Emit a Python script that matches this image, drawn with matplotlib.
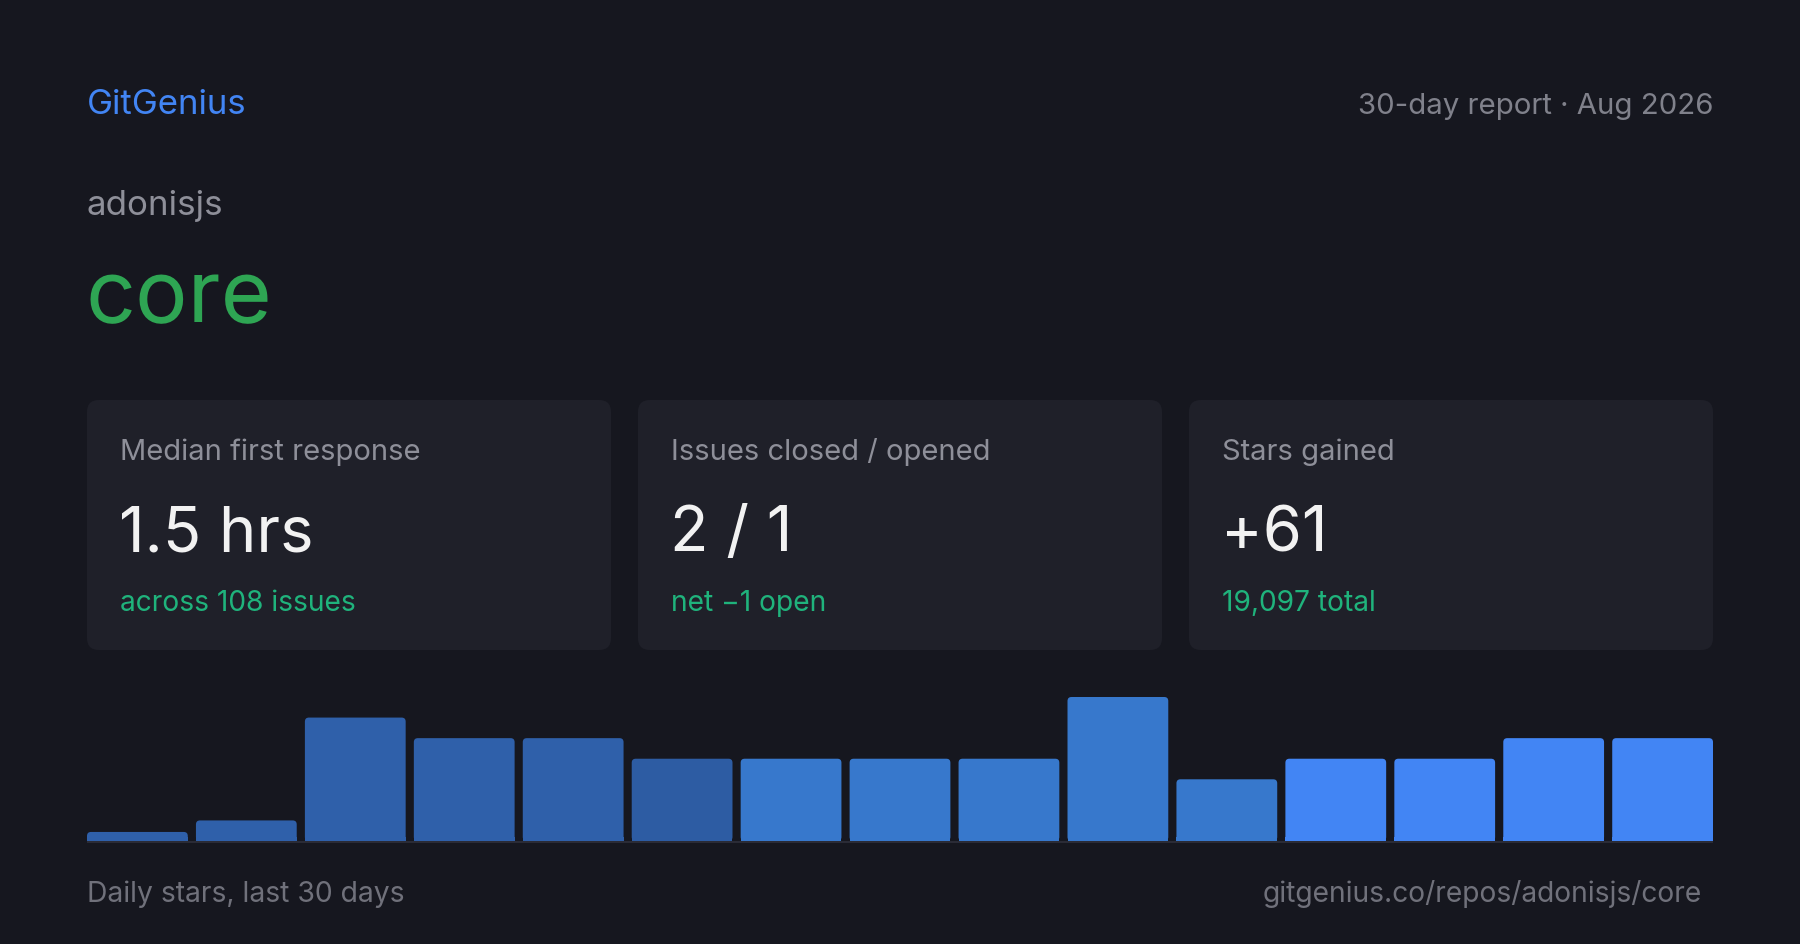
import numpy as np
import matplotlib
matplotlib.use("Agg")
import matplotlib.pyplot as plt
from matplotlib.patches import FancyBboxPatch, Rectangle
from matplotlib.transforms import IdentityTransform

plt.rcParams['font.family'] = ['Inter', 'DejaVu Sans']

# data
org = "adonisjs"
repo = "core"
report_label = "30-day report · Aug 2026"
card_titles = ["Median first response", "Issues closed / opened", "Stars gained"]
card_values = ["1.5 hrs", "2 / 1", "+61"]
card_notes = ["across 108 issues", "net \u22121 open", "19,097 total"]
daily_stars = [0, 1, 6, 5, 5, 4, 4, 4, 4, 7, 3, 4, 4, 5, 5]
bar_colors = ["#2f60aa"] * 5 + ["#2d5ca3"] + ["#3778cc"] * 5 + ["#4285f4"] * 4

BG = "#16171f"
CARD = "#1f2029"
W, H = 1800, 945

fig = plt.figure(figsize=(18, 9.45), dpi=100)
fig.patch.set_facecolor(BG)

# canvas axes in pixel units (y down)
ax = fig.add_axes([0, 0, 1, 1])
ax.set_xlim(0, W)
ax.set_ylim(H, 0)
ax.axis("off")

ax.text(87, 114, "GitGenius", color="#4285f4", fontsize=25, ha="left", va="baseline")
ax.text(1713, 114, report_label, color="#80818b", fontsize=21.2, ha="right", va="baseline")
ax.text(87, 215, org, color="#8e8f99", fontsize=25.2, ha="left", va="baseline")
ax.text(86, 322, repo, color="#2ea553", fontsize=63, ha="left", va="baseline")

# stat cards
card_x = [87, 638, 1189]
card_w = 524
for x0, title, val, note in zip(card_x, card_titles, card_values, card_notes):
    box = FancyBboxPatch((x0, 401), card_w, 250, boxstyle="round,pad=0,rounding_size=12",
                         facecolor=CARD, edgecolor="none")
    ax.add_patch(box)
    ax.text(x0 + 33, 460, title, color="#8e8f99", fontsize=21, ha="left", va="baseline")
    ax.text(x0 + 32, 551, val, color="#f2f2f2", fontsize=45.5, ha="left", va="baseline")
    ax.text(x0 + 33, 611, note, color="#1fb37c", fontsize=20.3, ha="left", va="baseline")

# footer
ax.text(87, 902, "Daily stars, last 30 days", color="#70717b", fontsize=20.4, ha="left",
        va="baseline")
ax.text(1702, 902, "gitgenius.co/repos/adonisjs/core", color="#70717b", fontsize=20.3,
        ha="right", va="baseline")

# baseline under bars
ax.plot([87, 1713], [843, 843], color="#2a2b36", lw=1.5, solid_capstyle="butt")

# bar chart axes: left 87, right 1713, bars sit on y=842, tallest bar ~144 px
bx = fig.add_axes([87 / W, (H - 842) / H, 1626 / W, 144 / H])
bx.set_facecolor("none")
heights = np.maximum(np.array(daily_stars, dtype=float), 0.44)
bw = 0.925
bars = bx.bar(np.arange(len(daily_stars)), heights, width=bw, color=bar_colors, linewidth=0)
bx.set_xlim(-bw / 2, len(daily_stars) - 1 + bw / 2)
bx.set_ylim(0, max(daily_stars))
bx.axis("off")

# swap each bar for a copy with rounded top corners (pixel space)
r = 4
for rect in bars:
    (x0, y0), (x1, y1) = bx.transData.transform(
        [(rect.get_x(), 0), (rect.get_x() + rect.get_width(), rect.get_height())])
    c = rect.get_facecolor()
    fig.patches.append(FancyBboxPatch((x0, y0), x1 - x0, y1 - y0,
                                      boxstyle=f"round,pad=0,rounding_size={r}",
                                      facecolor=c, edgecolor="none",
                                      transform=IdentityTransform(), figure=fig))
    fig.patches.append(Rectangle((x0, y0), x1 - x0, min(r, y1 - y0), facecolor=c,
                                 edgecolor="none", transform=IdentityTransform(), figure=fig))
    rect.set_visible(False)

fig.savefig("out.png", dpi=100, facecolor=BG)
